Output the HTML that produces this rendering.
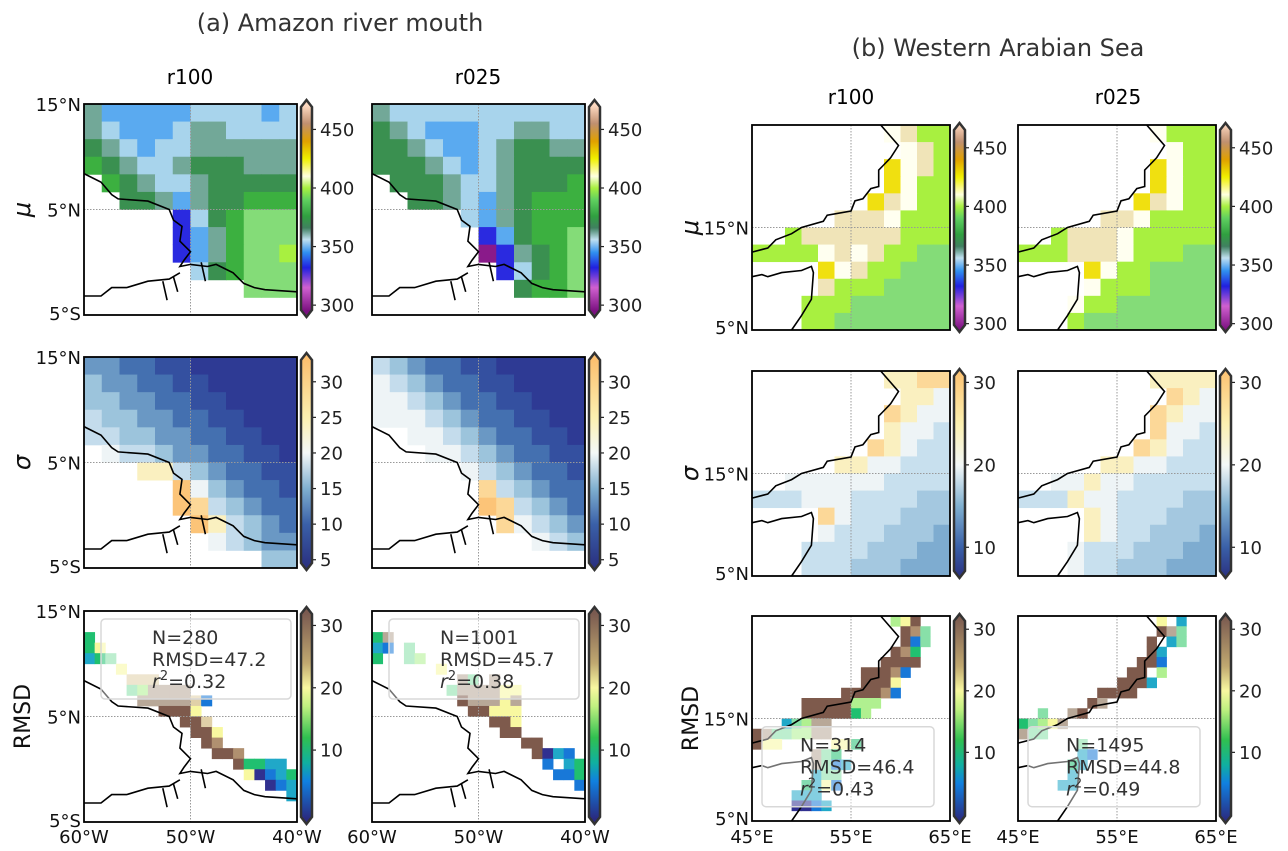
<!DOCTYPE html>
<html><head><meta charset="utf-8"><style>
html,body{margin:0;padding:0;background:#fff}
svg{display:block;font-family:"DejaVu Sans","Liberation Sans",sans-serif}
</style></head><body>
<svg id="fig" width="1288" height="851" viewBox="0 0 1288 851">
<text x="340" y="31" font-size="24" fill="#333" text-anchor="middle">(a) Amazon river mouth</text>
<text x="998" y="56" font-size="24" fill="#333" text-anchor="middle">(b) Western Arabian Sea</text>
<text x="190" y="84" font-size="20" text-anchor="middle">r100</text>
<text x="478" y="84" font-size="20" text-anchor="middle">r025</text>
<text x="851" y="104" font-size="20" text-anchor="middle">r100</text>
<text x="1118" y="104" font-size="20" text-anchor="middle">r025</text>
<g id="panels"></g>
</svg>
<script>
// ---------- data grids (level codes per cell, '.' = no data) ----------
const amzMu100 = [
"422222333323","432223443333","543233444444","654334555444",".65433455555",
"..5542455666",".....1356ggg",".....1246ggg",".....1246gg7","......356ggg",
".........ggg","............"];
const amzMu025 = [
"433333333333","543222334433","554322345544","555432345555",".55543345556",
"..5543245666",".....3245666","......12566g","......01456g",".......1356g",
"........566g","............"];
const amzSig100 = [
"332211000000","433221100000","443322110000","544332211000","554433221100",
".65543322110","...775432211",".....9643221",".....9854322","......975432",
".......65433","..........44"];
const amzSig025 = [
"543221100000","654322110000","665432211000","666543221100","..6654322110",
"...665432211",".....6543221","......854322","......985432",".......86543",
".........654","............"];
const amzRms100 = [
"....................","....................","3...................","36..................",
"234.................","...6................","....777.............","....45llll..........",
".....lllll71........",".......9996.........",".........997........","..........996.......",
"...........98.......","............998.....","..............93322.","...............60123",
".................012","...................2","....................","...................."];
const amzRms025 = [
"....................","....................","3l..................","21.4................",
"3..45...............","......6.............","........l4.l........",".......4llll66......",
"........9lll6l......",".........99666......","...........996......","............99......",
"..............99....","...............9021.","................1.23",".................113",
"...................1","....................","....................","...................."];
const araMu100 = [
"........w877",".........w87","........9w87","........9w77",".......98w77",
".....888w777","..7888888777","7777w8w877gg","....9w877ggg","....8777gggg",
"...777gggggg","...77ggggggg"];
const araMu025 = [
"........w777",".........w77","........9w77","........9w77",".......98w77",
".....88w7777","..7888w77777","777888w777gg","....9w77gggg","....w777gggg",
"...w77gggggg","...7gggggggg"];
const araSig100 = [
"........7788",".........776","........8766","........7665",".......87655",
".....7766555","..6666665555","555666555544","....86555444","....65554443",
"...555544433","...555444333"];
const araSig025 = [
"........7777",".........876","........8766","........8665",".......87655",
".....7766555","..6676655555","555766555544","....76555444","....76554443",
"...655544433","...655444333"];
const araRms100 = [
"..............569...","...............984..","...............914..","..............983...",
".............9999...","...........99981....","...........9996.....",".........999981.....",
".....99999555.......",".....9999935........","...245ll............","9l4455ll............",
"966.....663.........","......l43...........","......l412..........","......244...........",
".....3261...........","....222.............","....0012............","...................."];
const araRms025 = [
"..............6.2...","..............9l4...",".............9.24...",".............92.....",
"............991.....","...........99.5.....","..........9992......","........9999........",
".......9l...........","..4..l9.............","3456l...............","l44.................",
"......4.............","......21............",".....32.............",".....2..............",
"....22..............","....................","....................","...................."];

// colorbar tick values
const muTicks = [300, 350, 400, 450];
const sigTicksA = [5, 10, 15, 20, 25, 30];
const sigTicksB = [10, 20, 30];
const rmsTicks = [10, 20, 30];

// ---------- colour maps ----------
const palMu = {'0':'#8a1a8a','1':'#2a2ae0','2':'#5aaaf0','3':'#a8d4ec','4':'#72a898','5':'#3a9050','6':'#3cb040','g':'#84dc78','7':'#a8f040','8':'#f0e4b8','w':'#fffff0','9':'#f0e010'};
const palSig = {'0':'#2e3a94','1':'#3450a0','2':'#4470b0','3':'#7eacd0','4':'#a4c8e0','5':'#c8e0ee','6':'#eef4f6','7':'#faf0c0','8':'#fcd898','9':'#fcc478'};
const palRms = {'0':'#303090','1':'#1878d8','2':'#20a8c8','3':'#20c070','4':'#88e0a8','5':'#b0f090','6':'#f8f8a0','7':'#e0d0a8','8':'#b09070','9':'#7e5a4c','l':'#b8a898'};
const palSigA = Object.assign({}, palSig, {'3':'#6a98c4','4':'#9cc4dc','5':'#c4dcec'});
const gradMu = [[295,'#7a1080'],[315,'#d060d0'],[332,'#2020e0'],[345,'#3090f0'],[356,'#c0e0f0'],[366,'#408060'],[376,'#30a040'],[390,'#60d060'],[400,'#a8f040'],[410,'#ffffe0'],[425,'#f0f000'],[440,'#e0a000'],[455,'#c09070'],[470,'#fcd8c0']];
const gradSig = [[4,'#2a3080'],[10,'#3a60a8'],[15,'#80b0d0'],[20,'#f4f8f8'],[25,'#fcf0b0'],[33,'#fcc070']];
const gradRms = [[-1,'#2a2a80'],[5,'#1080e0'],[8,'#10b0a0'],[12,'#30c050'],[17,'#c0f080'],[20,'#f8f8a0'],[24,'#c0a870'],[32,'#7a5a50']];

// ---------- coastlines (fractions of panel) ----------
const coastAmz = [
 [[0,.33],[.08,.37],[.13,.43],[.16,.45],[.3,.46],[.4,.5],[.42,.55],[.46,.58],[.45,.65],[.5,.7],[.47,.74],[.45,.77],[.5,.76],[.58,.77],[.62,.76],[.7,.8],[.75,.85],[.8,.87],[.85,.88],[1,.89]],
 [[0,.91],[.08,.91],[.13,.87],[.2,.87],[.3,.84],[.4,.83],[.45,.8]],
 [[.37,.84],[.39,.93]],[[.42,.82],[.44,.89]],[[.55,.75],[.57,.84]]];
const coastAra = [
 [[.65,0],[.74,.1],[.7,.16],[.66,.2],[.64,.22],[.64,.3],[.6,.31],[.56,.36],[.52,.37],[.5,.42],[.38,.44],[.36,.47],[.25,.5],[.2,.53],[.12,.56],[.08,.6],[0,.62]],
 [[0,.74],[.05,.73],[.08,.74],[.15,.72],[.25,.71],[.3,.69],[.31,.72],[.3,.85],[.25,.93],[.2,1]]];

const NS = 'http://www.w3.org/2000/svg';
const root = document.getElementById('panels');
function mk(tag, attrs, parent){const e=document.createElementNS(NS,tag);for(const k in attrs)e.setAttribute(k,attrs[k]);(parent||root).appendChild(e);return e;}

const L = {xs:[84,372], ys:[104,357,611], w:213, h:211};
const R = {xs:[752,1018], ys:[125,371,616], w:198, h:205};

const panels = [
 {g:L,c:0,r:0,grid:amzMu100,nc:12,pal:palMu,coast:coastAmz,name:'amazon-mu-r100'},
 {g:L,c:1,r:0,grid:amzMu025,nc:12,pal:palMu,coast:coastAmz,name:'amazon-mu-r025'},
 {g:L,c:0,r:1,grid:amzSig100,nc:12,pal:palSigA,coast:coastAmz,name:'amazon-sigma-r100'},
 {g:L,c:1,r:1,grid:amzSig025,nc:12,pal:palSigA,coast:coastAmz,name:'amazon-sigma-r025'},
 {g:L,c:0,r:2,grid:amzRms100,nc:20,pal:palRms,coast:coastAmz,name:'amazon-rmsd-r100',leg:['N=280','RMSD=47.2','0.32']},
 {g:L,c:1,r:2,grid:amzRms025,nc:20,pal:palRms,coast:coastAmz,name:'amazon-rmsd-r025',leg:['N=1001','RMSD=45.7','0.38']},
 {g:R,c:0,r:0,grid:araMu100,nc:12,pal:palMu,coast:coastAra,name:'arabia-mu-r100'},
 {g:R,c:1,r:0,grid:araMu025,nc:12,pal:palMu,coast:coastAra,name:'arabia-mu-r025'},
 {g:R,c:0,r:1,grid:araSig100,nc:12,pal:palSig,coast:coastAra,name:'arabia-sigma-r100'},
 {g:R,c:1,r:1,grid:araSig025,nc:12,pal:palSig,coast:coastAra,name:'arabia-sigma-r025'},
 {g:R,c:0,r:2,grid:araRms100,nc:20,pal:palRms,coast:coastAra,name:'arabia-rmsd-r100',leg:['N=314','RMSD=46.4','0.43'],legLow:true},
 {g:R,c:1,r:2,grid:araRms025,nc:20,pal:palRms,coast:coastAra,name:'arabia-rmsd-r025',leg:['N=1495','RMSD=44.8','0.49'],legLow:true}
];

panels.forEach(p=>{
 const x=p.g.xs[p.c], y=p.g.ys[p.r], w=p.g.w, h=p.g.h;
 const grp=mk('g',{});
 
 
 const nr=p.grid.length, nc=p.nc;
 const cw=w/nc, ch=h/nr;
 p.grid.forEach((row,ri)=>{
  const s=row.padEnd(nc,'.').slice(0,nc);
  for(let ci=0;ci<nc;ci++){
   const col=p.pal[s[ci]]; if(!col) continue;
   const rc=mk('rect',{x:(x+ci*cw).toFixed(2),y:(y+ri*ch).toFixed(2),width:(cw+0.4).toFixed(2),height:(ch+0.4).toFixed(2),fill:col},grp);
   
   
  }
 });
 const gl1=mk('line',{x1:x+w/2,y1:y,x2:x+w/2,y2:y+h,stroke:'#999','stroke-width':1,'stroke-dasharray':'1.5,1.5'},grp);
 
 
 const gl2=mk('line',{x1:x,y1:y+h/2,x2:x+w,y2:y+h/2,stroke:'#999','stroke-width':1,'stroke-dasharray':'1.5,1.5'},grp);
 
 
 p.coast.forEach(line=>{
  const pl=mk('polyline',{points:line.map(q=>(x+q[0]*w).toFixed(1)+','+(y+q[1]*h).toFixed(1)).join(' '),fill:'none',stroke:'#000','stroke-width':1.6},grp);
  
  
 });
 if(p.leg){
  const lx=p.legLow? x+10 : x+17, ly=p.legLow? y+h*0.54 : y+8, lw=p.legLow?172:190, lh=80;
  const lg=mk('g',{},grp);
  
  
  mk('rect',{x:lx,y:ly,width:lw,height:lh,rx:4,fill:'#fff','fill-opacity':0.45,stroke:'#d8d8d8','stroke-width':1.5},lg);
  const tx=lx+(p.legLow?38:51);
  const t1=mk('text',{x:tx,y:ly+25,'font-size':19,fill:'#333'},lg); t1.textContent=p.leg[0];
  const t2=mk('text',{x:tx,y:ly+47,'font-size':19,fill:'#333'},lg); t2.textContent=p.leg[1];
  const t3=mk('text',{x:tx,y:ly+69,'font-size':19,fill:'#333'},lg);
  t3.innerHTML='<tspan font-style="italic">r</tspan><tspan dy="-8" font-size="13">2</tspan><tspan dy="8">='+p.leg[2]+'</tspan>';
 }
 const fr=mk('rect',{x:x,y:y,width:w,height:h,fill:'none',stroke:'#000','stroke-width':1.8},grp);
 
 
});

// ---------- colorbars ----------
let gid=0;
function colorbar(x,y,h,vmin,vmax,stops,ticks,name){
 const w=11, g=mk('g',{});
 
 
 const id='cg'+(gid++);
 const defs=mk('defs',{},g);
 const lgd=mk('linearGradient',{id:id,x1:0,y1:1,x2:0,y2:0},defs);
 const sy=v=>y+h-6-(v-vmin)/(vmax-vmin)*(h-12);
 stops.forEach(s=>{const off=(y+h-sy(s[0]))/h;mk('stop',{offset:Math.max(0,Math.min(1,off)),'stop-color':s[1]},lgd);});
 mk('polygon',{points:`${x},${y+7} ${x+w/2},${y} ${x+w},${y+7} ${x+w},${y+h-7} ${x+w/2},${y+h} ${x},${y+h-7}`,fill:`url(#${id})`,stroke:'#333','stroke-width':2.5,'stroke-linejoin':'miter'},g);
 ticks.forEach(t=>{
  const ty=sy(t);
  mk('line',{x1:x+w+1,y1:ty,x2:x+w+4,y2:ty,stroke:'#222','stroke-width':1.2},g);
  const tl=mk('text',{x:x+w+8,y:ty+6.5,'font-size':18,fill:'#222'},g); tl.textContent=t;
  
  
 });
}
[0,1].forEach(c=>{
 const xl=L.xs[c]+L.w+4;
 colorbar(xl,L.ys[0]-4,L.h+6,295,470,gradMu,muTicks,'colorbar-amazon-mu');
 colorbar(xl,L.ys[1]-4,L.h+6,4.4,33.2,gradSig,sigTicksA,'colorbar-amazon-sigma');
 colorbar(xl,L.ys[2]-4,L.h+6,-0.9,32,gradRms,rmsTicks,'colorbar-amazon-rmsd');
 const xr=R.xs[c]+R.w+4;
 colorbar(xr,R.ys[0]-2,R.h+4,298,466,gradMu,muTicks,'colorbar-arabia-mu');
 colorbar(xr,R.ys[1]-2,R.h+4,7,30.9,gradSig,sigTicksB,'colorbar-arabia-sigma');
 colorbar(xr,R.ys[2]-2,R.h+4,-0.5,31.5,gradRms,rmsTicks,'colorbar-arabia-rmsd');
});

// ---------- axis labels ----------
function txt(x,y,s,size,anchor,name,rot,ital){
 const t=mk('text',{x:x,y:y,'font-size':size,'text-anchor':anchor||'start',fill:'#111'});
 if(rot) t.setAttribute('transform',`rotate(-90 ${x} ${y})`);
 if(ital) t.setAttribute('font-style','italic');
 t.textContent=s;
 
 
}
L.ys.forEach((y,i)=>{
 txt(81,y+7,'15°N',18,'end','lat-tick-15n');
 txt(81,y+L.h/2+7,'5°N',18,'end','lat-tick-5n');
 txt(81,y+L.h+5,'5°S',18,'end','lat-tick-5s');
});
R.ys.forEach(y=>{
 txt(749,y+R.h/2+7,'15°N',18,'end','lat-tick-15n');
 txt(749,y+R.h+4,'5°N',18,'end','lat-tick-5n');
});
[['60°W',0],['50°W',.5],['40°W',1]].forEach(a=>{L.xs.forEach(x=>txt(x+a[1]*L.w,843,a[0],18,'middle','lon-tick'));});
[['45°E',0],['55°E',.5],['65°E',1]].forEach(a=>{R.xs.forEach(x=>txt(x+a[1]*R.w,843,a[0],18,'middle','lon-tick'));});
txt(30,L.ys[0]+L.h/2,'μ',24,'middle','row-label-mu',true,true);
txt(30,L.ys[1]+L.h/2,'σ',24,'middle','row-label-sigma',true,true);
txt(30,L.ys[2]+L.h/2,'RMSD',22,'middle','row-label-rmsd',true);
txt(698,R.ys[0]+R.h/2,'μ',24,'middle','row-label-mu',true,true);
txt(698,R.ys[1]+R.h/2,'σ',24,'middle','row-label-sigma',true,true);
txt(698,R.ys[2]+R.h/2,'RMSD',22,'middle','row-label-rmsd',true);
</script>
</body></html>
